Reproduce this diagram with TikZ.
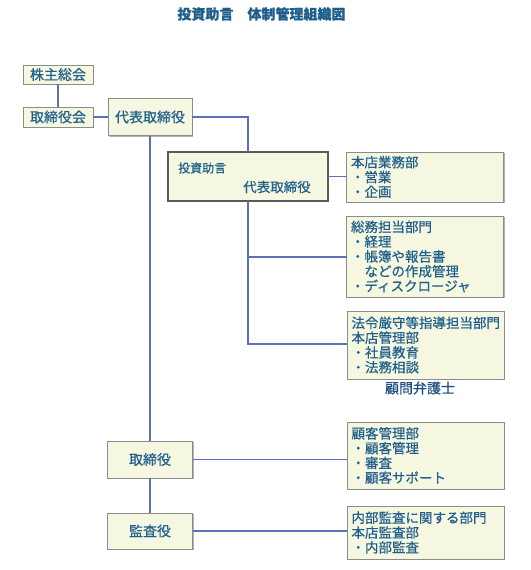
\documentclass[tikz,border=0pt]{standalone}
\usepackage{fontspec}
\setmainfont{Noto Sans CJK JP}[FakeBold=0.5]
\usetikzlibrary{shadows}
\definecolor{txt}{HTML}{1F5F8B}
\definecolor{txtdark}{HTML}{1D4E80}
\definecolor{ln}{HTML}{5B70B6}
\definecolor{bxfill}{HTML}{F6F7E1}
\definecolor{bxdraw}{HTML}{8C8C8C}
\definecolor{bxdark}{HTML}{5A5A5A}
\begin{document}
\begin{tikzpicture}[x=1pt,y=-1pt,
  box/.style={draw=bxdraw, line width=0.9pt, fill=bxfill, inner sep=0pt, outer sep=0pt,
    text=txt, font=\fontsize{14}{16}\selectfont,
    drop shadow={shadow xshift=1.2pt, shadow yshift=-1.2pt, fill=black!30, opacity=1}},
  listbox/.style={box, align=left, inner xsep=4.5pt, text width=148pt, minimum width=157,
    font=\fontsize{13.5}{14.8}\selectfont},
  conn/.style={draw=ln, line width=1.8pt},
  lbl/.style={inner sep=0pt, text=txt}
]
\useasboundingbox (0,0) rectangle (530,570);

\node[lbl, font=\bfseries\fontsize{14}{16}\selectfont] (title) at (261.5,14) {投資助言　体制管理組織図};

\node[box, minimum width=70, minimum height=19] (kabu) at (58,74.5) {株主総会};
\node[box, minimum width=70, minimum height=20] (torikai) at (58,117) {取締役会};
\node[box, minimum width=84, minimum height=37] (daihyo) at (150,117) {代表取締役};

\node[box, draw=bxdark, line width=1.8pt, minimum width=160, minimum height=49] (toshi) at (248,176.5) {};
\node[lbl, anchor=west, font=\fontsize{12}{14}\selectfont] (toshiA) at (178,168) {投資助言};
\node[lbl, anchor=east, font=\fontsize{13.5}{15}\selectfont] (toshiB) at (311,187) {代表取締役};

\node[listbox, minimum height=50] (honten) at (425,177) {本店業務部\\・営業\\・企画};
\node[listbox, minimum height=81] (somu) at (425,256.5) {総務担当部門\\・経理\\・帳簿や報告書\\　などの作成管理\\・ディスクロージャ};
\node[listbox, minimum height=68] (horei) at (425.5,345) {法令厳守等指導担当部門\\本店管理部\\・社員教育\\・法務相談};
\node[inner sep=0pt, text=txtdark, font=\fontsize{14}{16}\selectfont] (komon) at (420,388) {顧問弁護士};

\node[box, minimum width=85, minimum height=37] (tori) at (150,459.5) {取締役};
\node[box, minimum width=85, minimum height=36] (kansa) at (150,531) {監査役};

\node[listbox, minimum height=67] (kokyaku) at (425.5,455.5) {顧客管理部\\・顧客管理\\・審査\\・顧客サポート};
\node[listbox, minimum height=53] (naibu) at (425.5,532.5) {内部監査に関する部門\\本店監査部\\・内部監査};

\coordinate (c1) at (248,117);
\coordinate (c2) at (248,257);
\coordinate (c3) at (248,344);

\draw[conn] (kabu.south) -- (torikai.north);
\draw[conn] (torikai.east) -- (daihyo.west);
\draw[conn] (daihyo.east) -- (c1) -- (toshi.north);
\draw[conn] (daihyo.south) -- (tori.north);
\draw[conn] (tori.south) -- (kansa.north);
\draw[conn] (toshi.east) -- (toshi.east -| honten.west);
\draw[conn] (toshi.south) -- (c3) -- (c3 -| horei.west);
\draw[conn] (c2) -- (c2 -| somu.west);
\draw[conn] (tori.east) -- (tori.east -| kokyaku.west);
\draw[conn] (kansa.east) -- (kansa.east -| naibu.west);
\end{tikzpicture}
\end{document}
